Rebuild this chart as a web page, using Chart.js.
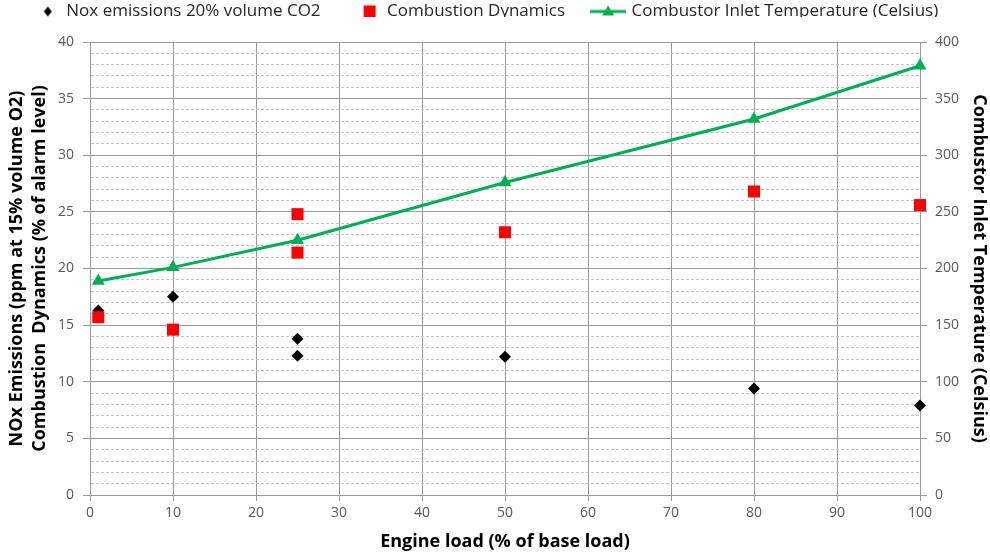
<!DOCTYPE html>
<html>
<head>
<meta charset="utf-8">
<script src="https://cdn.jsdelivr.net/npm/chart.js@4.4.1/dist/chart.umd.min.js"></script>
<style>
html,body{margin:0;padding:0;background:#fff;}
#wrap{position:relative;width:990px;height:553px;}
</style>
</head>
<body>
<div id="wrap"><canvas id="c"></canvas></div>
<script>
// ---- data ----
const seriesNames = ['Nox emissions 20% volume CO2', 'Combustion Dynamics', 'Combustor Inlet Temperature (Celsius)'];
const noxLoad = [1, 10, 25, 25, 50, 80, 100];
const noxValues = [16.3, 17.5, 13.8, 12.3, 12.2, 9.4, 7.9];
const dynLoad = [1, 10, 25, 25, 50, 80, 100];
const dynValues = [15.7, 14.6, 24.8, 21.4, 23.2, 26.8, 25.6];
const tempLoad = [1, 10, 25, 50, 80, 100];
const tempValues = [189, 201, 225, 276, 332, 379];
const xTitle = 'Engine load (% of base load)';
const yLeftTitle = ['NOx Emissions (ppm at 15% volume O2)', 'Combustion  Dynamics (% of alarm level)'];
const yRightTitle = 'Combustor Inlet Temperature (Celsius)';

const GREEN = '#00B050', RED = '#FF0000', BLACK = '#000000';
const FONT = "'Open Sans', sans-serif";

function pts(xs, ys) { return xs.map((x, i) => ({x: x, y: ys[i]})); }

// legend glyphs
function glyph(kind) {
  const cv = document.createElement('canvas');
  cv.width = 40; cv.height = 16;
  const g = cv.getContext('2d');
  if (kind === 'diamond') {
    const cx = 25, cy = 8, r = 5;
    g.fillStyle = BLACK; g.beginPath();
    g.moveTo(cx, cy - r); g.lineTo(cx + r * 0.8, cy); g.lineTo(cx, cy + r); g.lineTo(cx - r * 0.8, cy); g.closePath(); g.fill();
  } else if (kind === 'square') {
    g.fillStyle = RED; g.fillRect(26 - 6, 8 - 6, 12, 12);
  } else {
    g.strokeStyle = GREEN; g.lineWidth = 3; g.beginPath(); g.moveTo(2, 8); g.lineTo(38, 8); g.stroke();
    g.fillStyle = GREEN; g.beginPath(); g.moveTo(20, 2); g.lineTo(26, 12); g.lineTo(14, 12); g.closePath(); g.fill();
  }
  return cv;
}
const legendGlyphs = [glyph('diamond'), glyph('square'), glyph('line')];

const legendTweak = {
  id: 'legendTweak',
  afterInit(chart) {
    const lg = chart.legend;
    const fit = lg.fit;
    lg.fit = function () { fit.call(this); this.height = 42; };
    const draw = lg.draw;
    lg.draw = function () { const c = this.ctx; c.save(); c.translate(-12, -25); draw.apply(this, arguments); c.restore(); };
  }
};

Chart.defaults.font.family = FONT;

new Chart(document.getElementById('c'), {
  type: 'scatter',
  data: {
    datasets: [
      { label: seriesNames[0], data: pts(noxLoad, noxValues), yAxisID: 'y', showLine: false, clip: false,
        pointStyle: 'rectRot', pointRadius: 6, pointHoverRadius: 6, backgroundColor: BLACK, borderColor: BLACK, borderWidth: 0, order: 3 },
      { label: seriesNames[1], data: pts(dynLoad, dynValues), yAxisID: 'y', showLine: false, clip: false,
        pointStyle: 'rect', pointRadius: 8.5, pointHoverRadius: 8.5, backgroundColor: RED, borderColor: RED, borderWidth: 0, order: 2 },
      { label: seriesNames[2], data: pts(tempLoad, tempValues), yAxisID: 'y2', showLine: true, clip: false,
        borderColor: GREEN, backgroundColor: GREEN, borderWidth: 3, pointStyle: 'triangle', pointRadius: 7.5, pointHoverRadius: 7.5,
        pointBorderWidth: 0, tension: 0, order: 1 }
    ]
  },
  options: {
    responsive: true,
    maintainAspectRatio: false,
    animation: false,
    layout: { padding: 0 },
    plugins: {
      tooltip: { enabled: false },
      legend: {
        position: 'top',
        labels: {
          usePointStyle: true,
          pointStyleWidth: 30,
          padding: 28,
          color: '#262626',
          font: { size: 17, family: FONT },
          generateLabels(chart) {
            const items = Chart.defaults.plugins.legend.labels.generateLabels(chart);
            items.sort((a, b) => a.datasetIndex - b.datasetIndex);
            items.forEach((it) => { it.pointStyle = legendGlyphs[it.datasetIndex]; });
            return items;
          }
        }
      }
    },
    scales: {
      x: {
        type: 'linear', position: 'bottom', min: 0, max: 100,
        afterFit(s) { s.height = 58; },
        ticks: { stepSize: 10, color: '#595959', font: { size: 14 }, padding: 4, autoSkip: false, maxRotation: 0 },
        grid: { color: '#9a9a9a', lineWidth: 1, tickLength: 6, tickColor: '#9a9a9a' },
        border: { color: '#9a9a9a' },
        title: { display: true, text: xTitle, color: '#000', font: { size: 18, weight: 'bold' }, padding: { top: 0, bottom: 0 } }
      },
      y: {
        type: 'linear', position: 'left', min: 0, max: 40,
        afterFit(s) { s.width = 90; },
        ticks: { stepSize: 1, autoSkip: false, color: '#595959', font: { size: 14 }, padding: 9,
          callback: (v) => (v % 5 === 0 ? v : '') },
        grid: {
          color: (c) => (c.tick && c.tick.value % 5 !== 0 ? '#c4c4c4' : '#9a9a9a'),
          tickColor: (c) => (c.tick && c.tick.value % 5 !== 0 ? 'rgba(0,0,0,0)' : '#9a9a9a'),
          tickLength: 7, lineWidth: 1
        },
        border: { color: '#9a9a9a', dash: (c) => (c.tick && c.tick.value % 5 !== 0 ? [3, 2] : []) },
        title: { display: true, text: yLeftTitle, color: '#000', font: { size: 18, weight: 'bold', lineHeight: 1.28 }, padding: { top: 5, bottom: 0 } }
      },
      y2: {
        type: 'linear', position: 'right', min: 0, max: 400,
        afterFit(s) { s.width = 70; },
        ticks: { stepSize: 50, color: '#595959', font: { size: 14 }, padding: 8 },
        grid: { drawOnChartArea: false, tickLength: 7, tickColor: '#9a9a9a' },
        border: { color: '#9a9a9a' },
        title: { display: true, text: yRightTitle, color: '#000', font: { size: 18, weight: 'bold' }, padding: { top: 0, bottom: 0 } }
      }
    }
  },
  plugins: [legendTweak]
});
</script>
</body>
</html>
